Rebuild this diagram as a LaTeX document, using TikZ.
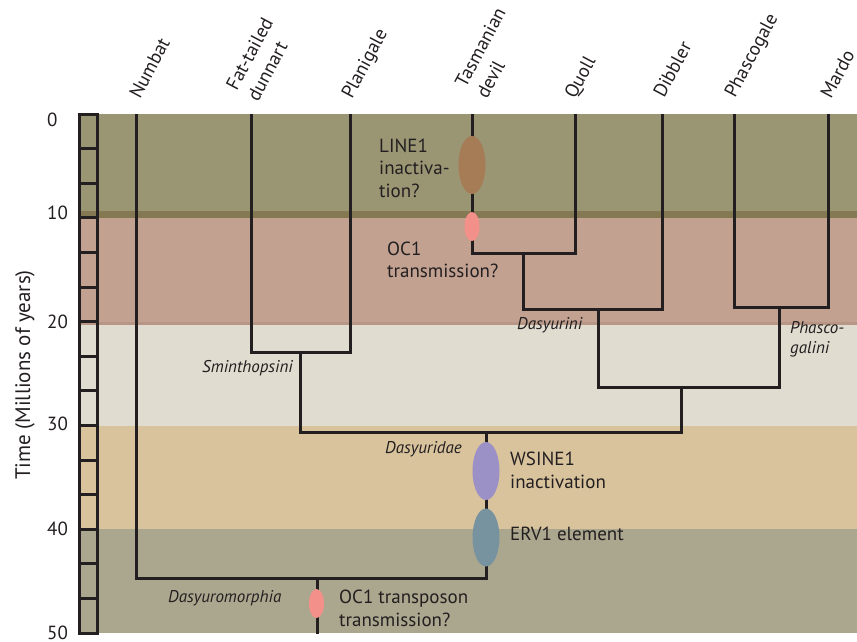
\documentclass[tikz,border=0pt]{standalone}
\usepackage{fontspec}
\setmainfont{PT Sans}
\usetikzlibrary{shapes.geometric}
\definecolor{bandA}{RGB}{154,150,116}
\definecolor{bandAdark}{RGB}{133,121,84}
\definecolor{bandB}{RGB}{194,161,145}
\definecolor{bandBdark}{RGB}{184,150,133}
\definecolor{bandC}{RGB}{224,220,208}
\definecolor{bandD}{RGB}{216,195,157}
\definecolor{bandE}{RGB}{171,167,143}
\definecolor{ink}{RGB}{35,31,32}
\definecolor{cLine}{RGB}{165,124,85}
\definecolor{cOC}{RGB}{244,144,138}
\definecolor{cWS}{RGB}{155,145,198}
\definecolor{cERV}{RGB}{120,147,160}
\tikzset{
  branch/.style={draw=ink, line width=3pt},
  bigevt/.style={ellipse, draw=none, inner sep=0pt, minimum width=27pt, minimum height=58pt},
  smallevt/.style={ellipse, draw=none, inner sep=0pt, minimum width=15pt, minimum height=29pt},
  lbl/.style={anchor=base west, inner sep=0pt, text=ink, align=left, font=\fontsize{19}{22.5}\selectfont},
  clade/.style={anchor=base west, inner sep=0pt, text=ink, align=left, font=\fontsize{17}{20}\selectfont\itshape},
  taxon/.style={rotate=62, anchor=base west, inner sep=0pt, text=ink, align=left, font=\fontsize{19}{24}\selectfont},
  tick/.style={anchor=base west, inner sep=0pt, text=ink, font=\fontsize{19}{22}\selectfont}
}
\begin{document}
\begin{tikzpicture}[x=1pt,y=-1pt]
\useasboundingbox (0,0) rectangle (857,642);
% background bands
\fill[bandA] (79,114) rectangle (857,211);
\fill[bandAdark] (79,211) rectangle (857,218);
\fill[bandB] (79,218) rectangle (857,322);
\fill[bandBdark] (79,322) rectangle (857,325);
\fill[bandC] (79,325) rectangle (857,426);
\fill[bandD] (79,426) rectangle (857,529);
\fill[bandE] (79,529) rectangle (857,633);
% time axis
\draw[branch] (79,114) rectangle (97,633);
\foreach \k in {1,...,14} { \draw[branch] (79,{114+\k*34.6}) -- (97,{114+\k*34.6}); }
\node[tick] (t0) at (47,126) {0};
\node[tick] (t10) at (47,219) {10};
\node[tick] (t20) at (47,328) {20};
\node[tick] (t30) at (47,430) {30};
\node[tick] (t40) at (47,535) {40};
\node[tick] (t50) at (47,639) {50};
\node[rotate=90, inner sep=0pt, text=ink, font=\fontsize{21}{24}\selectfont] (ytitle) at (25,375) {Time (Millions of years)};
% tips
\coordinate (numbat) at (136,114);
\coordinate (fat) at (251,114);
\coordinate (plan) at (350,114);
\coordinate (tas) at (472,114);
\coordinate (quoll) at (575,114);
\coordinate (dib) at (662,114);
\coordinate (phas) at (734,114);
\coordinate (mardo) at (828,114);
% internal nodes
\coordinate (smin) at (300,352);
\coordinate (tq) at (523,253);
\coordinate (dsy) at (598,309);
\coordinate (phg) at (779,307);
\coordinate (dp) at (681,387);
\coordinate (dasy) at (486,432);
\coordinate (dm) at (317,578);
\coordinate (root) at (317,634);
% branches
\draw[branch] (fat) |- (smin) -| (plan);
\draw[branch] (tas) |- (tq) -| (quoll);
\draw[branch] (tq) |- (dsy) -| (dib);
\draw[branch] (phas) |- (phg) -| (mardo);
\draw[branch] (dsy) |- (dp) -| (phg);
\draw[branch] (smin) |- (dasy) -| (dp);
\draw[branch] (numbat) |- (dm) -| (dasy);
\draw[branch] (dm) -- (root);
% events
\node[bigevt, fill=cLine] (eline) at (472,165) {};
\node[smallevt, fill=cOC] (eoc) at (472,226.5) {};
\node[bigevt, fill=cWS] (ews) at (486,471) {};
\node[bigevt, fill=cERV] (eerv) at (486,537.5) {};
\node[smallevt, fill=cOC] (eoc2) at (316.5,603.5) {};
% event labels (base = last line)
\node[lbl] (lline) at (379,197) {LINE1\\inactiva-\\tion?};
\node[lbl] (loc) at (387,277.5) {OC1\\transmission?};
\node[lbl] (lws) at (510,488) {WSINE1\\inactivation};
\node[lbl] (lerv) at (510,540) {ERV1 element};
\node[lbl] (loc2) at (339,626) {OC1 transposon\\transmission?};
% clade labels
\node[clade] (csmin) at (202,372) {Sminthopsini};
\node[clade] (cdasy) at (385,453) {Dasyuridae};
\node[clade] (cdsy) at (517,329) {Dasyurini};
\node[clade] (cphg) at (790,353) {Phasco-\\galini};
\node[clade] (cdm) at (168,602) {Dasyuromorphia};
% taxon labels (base = last line start)
\node[taxon] (lnumbat) at (140,100) {Numbat};
\node[taxon] (lfat) at (258,103) {Fat-tailed\\dunnart};
\node[taxon] (lplan) at (352,100) {Planigale};
\node[taxon] (ltas) at (487,100) {Tasmanian\\devil};
\node[taxon] (lquoll) at (575,100) {Quoll};
\node[taxon] (ldib) at (664,99) {Dibbler};
\node[taxon] (lphas) at (735,99) {Phascogale};
\node[taxon] (lmardo) at (831,100) {Mardo};
\end{tikzpicture}
\end{document}
